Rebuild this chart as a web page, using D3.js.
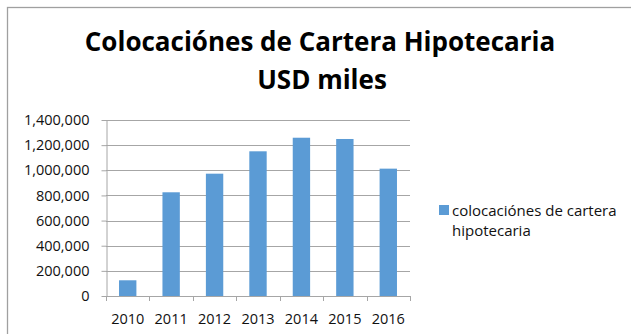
<!DOCTYPE html>
<html>
<head>
<meta charset="utf-8">
<script src="https://cdn.jsdelivr.net/npm/d3@7"></script>
<style>
  body { margin: 0; background: #fff; }
  text { font-family: "Open Sans", "Noto Sans", sans-serif; }
</style>
</head>
<body>
<div id="chart"></div>
<script>
// data
var years = ["2010", "2011", "2012", "2013", "2014", "2015", "2016"];
var colocaciones = [125000, 825000, 973000, 1151000, 1259000, 1249000, 1013000];
var yTicks = [0, 200000, 400000, 600000, 800000, 1000000, 1200000, 1400000];
var titleLines = ["Colocaciónes de Cartera Hipotecaria", "USD miles"];
var legendLines = ["colocaciónes de cartera", "hipotecaria"];

var W = 631, H = 334;
var plot = { left: 106, right: 410, top: 120, bottom: 296 };
var barColor = "#5b9bd5", gridColor = "#a6a6a6";

var svg = d3.select("#chart").append("svg")
    .attr("width", W).attr("height", H);

// chart frame (runs off the right and bottom edge in the original)
svg.append("rect")
    .attr("x", 7.5).attr("y", 7.5)
    .attr("width", W + 10).attr("height", H + 10)
    .attr("fill", "none").attr("stroke", "#a0a0a0").attr("stroke-width", 1.3);

// title
svg.append("g").selectAll("text")
    .data(titleLines)
    .enter().append("text")
    .attr("x", function(d, i) { return i == 0 ? 320 : 322; })
    .attr("y", function(d, i) { return 51 + i * 38; })
    .attr("text-anchor", "middle")
    .style("font-size", "26px")
    .style("font-weight", "bold")
    .style("fill", "#000")
    .text(function(d) { return d; });

var x = d3.scaleBand()
    .domain(years)
    .range([plot.left, plot.right])
    .paddingInner(0.6)
    .paddingOuter(0.3);

var y = d3.scaleLinear()
    .domain([0, 1400000])
    .range([plot.bottom, plot.top]);

// gridlines
svg.append("g").selectAll("line")
    .data(yTicks)
    .enter().append("line")
    .attr("x1", plot.left).attr("x2", plot.right)
    .attr("y1", function(d) { return Math.round(y(d)) + 0.5; })
    .attr("y2", function(d) { return Math.round(y(d)) + 0.5; })
    .attr("stroke", gridColor).attr("stroke-width", 1);

// y axis
var yAxis = d3.axisLeft(y)
    .tickValues(yTicks)
    .tickFormat(d3.format(","))
    .tickSizeInner(5).tickSizeOuter(0)
    .tickPadding(12);

var gy = svg.append("g")
    .attr("transform", "translate(" + (plot.left + 0.5) + ",0)")
    .call(yAxis);
gy.select(".domain").attr("stroke", gridColor);
gy.selectAll(".tick line").attr("stroke", gridColor);
gy.selectAll(".tick text")
    .style("font-size", "14.5px").style("fill", "#111")
    .style("font-family", "'Open Sans', sans-serif");

// bars
svg.append("g").selectAll("rect")
    .data(colocaciones)
    .enter().append("rect")
    .attr("x", function(d, i) { return x(years[i]); })
    .attr("y", function(d) { return y(d); })
    .attr("width", x.bandwidth())
    .attr("height", function(d) { return y(0) - y(d); })
    .attr("fill", barColor);

// x axis line + tick marks on category boundaries
var gx = svg.append("g");
gx.append("line")
    .attr("x1", plot.left).attr("x2", plot.right)
    .attr("y1", plot.bottom + 0.5).attr("y2", plot.bottom + 0.5)
    .attr("stroke", gridColor);
gx.selectAll("line.tk")
    .data(d3.range(years.length + 1))
    .enter().append("line")
    .attr("class", "tk")
    .attr("x1", function(i) { return Math.round(plot.left + i * x.step()) + 0.5; })
    .attr("x2", function(i) { return Math.round(plot.left + i * x.step()) + 0.5; })
    .attr("y1", plot.bottom).attr("y2", plot.bottom + 5)
    .attr("stroke", gridColor);
gx.selectAll("text")
    .data(years)
    .enter().append("text")
    .attr("x", function(d) { return x(d) + x.bandwidth() / 2; })
    .attr("y", 324)
    .attr("text-anchor", "middle")
    .style("font-size", "14.5px").style("fill", "#111")
    .text(function(d) { return d; });

// legend
var lg = svg.append("g");
lg.append("rect")
    .attr("x", 439).attr("y", 205)
    .attr("width", 10).attr("height", 10)
    .attr("fill", barColor);
lg.selectAll("text")
    .data(legendLines)
    .enter().append("text")
    .attr("x", 452)
    .attr("y", function(d, i) { return 216 + i * 20; })
    .style("font-size", "15px").style("fill", "#111")
    .text(function(d) { return d; });
</script>
</body>
</html>
